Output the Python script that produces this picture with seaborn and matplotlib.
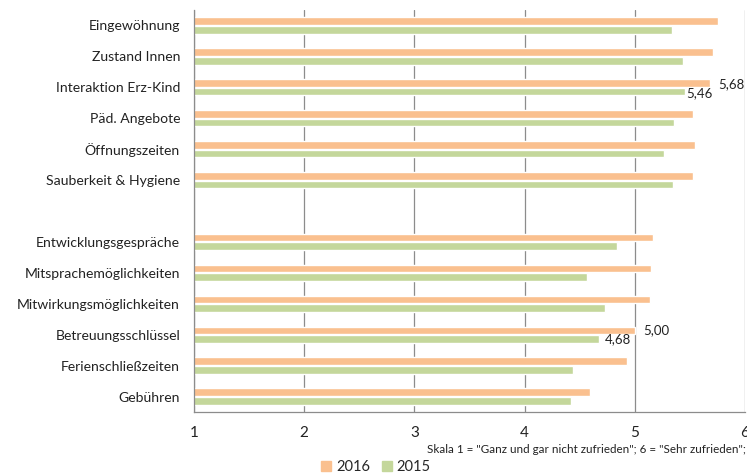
import matplotlib
matplotlib.use("Agg")
import matplotlib.pyplot as plt
import numpy as np
import pandas as pd
import seaborn as sns

# Data
categories = ["Eingewöhnung", "Zustand Innen", "Interaktion Erz-Kind", "Päd. Angebote",
              "Öffnungszeiten", "Sauberkeit & Hygiene", " ",
              "Entwicklungsgespräche", "Mitsprachemöglichkeiten", "Mitwirkungsmöglichkeiten",
              "Betreuungsschlüssel", "Ferienschließzeiten", "Gebühren"]
values_2016 = [5.76, 5.71, 5.68, 5.53, 5.55, 5.53, np.nan, 5.17, 5.15, 5.14, 5.00, 4.93, 4.59]
values_2015 = [5.34, 5.44, 5.46, 5.36, 5.27, 5.35, np.nan, 4.84, 4.57, 4.73, 4.68, 4.44, 4.42]
years = ["2016", "2015"]
x_ticks = [1, 2, 3, 4, 5, 6]
labeled = ["Interaktion Erz-Kind", "Betreuungsschlüssel"]

df = pd.DataFrame({
    "Kategorie": categories * 2,
    "Wert": values_2016 + values_2015,
    "Jahr": [years[0]] * len(categories) + [years[1]] * len(categories),
})

sns.set_style("white")
plt.rcParams['font.family'] = ['Lato', 'DejaVu Sans']

colors = {"2016": "#FAC08F", "2015": "#C4D79B"}
# label placement (dx, dy) relative to the 2016 bar end, as in the reference
label_offsets = {
    "Interaktion Erz-Kind": ((0.08, -0.11), (0.03, 0.18)),
    "Betreuungsschlüssel": ((0.08, -0.15), (-0.03, 0.15)),
}

fig = plt.figure(figsize=(7.47, 4.75), dpi=100)
ax = fig.add_axes([0.2597, 0.1326, 0.7375, 0.8463])

sns.barplot(data=df, x="Wert", y="Kategorie", hue="Jahr", order=categories,
            hue_order=years, palette=colors, width=0.56, gap=0.12,
            orient="h", ax=ax, legend=False, saturation=1)

ax.set_xlim(1, 6)
ax.set_ylim(len(categories) - 0.5, -0.5)
ax.set_xticks(x_ticks)
ax.set_xticklabels([str(t) for t in x_ticks], fontsize=11, color="#222222")
ax.set_xlabel("")
ax.set_ylabel("")
ax.grid(axis="x", color="#8c8c8c", linewidth=0.9)
ax.set_axisbelow(True)

# labels at category centres, tick marks at boundaries
ax.set_yticks(range(len(categories)))
ax.set_yticklabels(categories, fontsize=10.1, color="#222222")
ax.tick_params(axis="y", length=0, pad=10)
ax.set_yticks(np.arange(-0.5, len(categories)), minor=True)
ax.tick_params(axis="y", which="minor", length=5, color="#8c8c8c", width=0.9)
ax.tick_params(axis="x", length=5, color="#8c8c8c", width=0.9, pad=5)

for side in ["top", "right"]:
    ax.spines[side].set_visible(False)
for side in ["left", "bottom"]:
    ax.spines[side].set_color("#8c8c8c")
    ax.spines[side].set_linewidth(0.9)

# data labels for the two highlighted categories
for cat in labeled:
    i = categories.index(cat)
    v16 = values_2016[i]
    v15 = values_2015[i]
    (dx16, dy16), (dx15, dy15) = label_offsets[cat]
    ax.text(v16 + dx16, i + dy16, f"{v16:.2f}".replace(".", ","), fontsize=9.5,
            color="#222222", va="center", ha="left")
    ax.text(v16 + dx15, i + dy15, f"{v15:.2f}".replace(".", ","), fontsize=9.5,
            color="#222222", va="center", ha="right")

fig.text(0.998, 0.054, 'Skala 1 = "Ganz und gar nicht zufrieden"; 6 = "Sehr zufrieden";',
         fontsize=8.4, ha="right", va="center", color="#222222")

handles = [plt.Rectangle((0, 0), 1, 1, color=colors[y]) for y in years]
fig.legend(handles, years, loc="center", bbox_to_anchor=(0.503, 0.017), ncol=2,
           frameon=False, fontsize=10.5, handlelength=0.7, handleheight=0.7,
           handletextpad=0.3, columnspacing=0.8, borderaxespad=0)

fig.savefig("out.png", dpi=100)
